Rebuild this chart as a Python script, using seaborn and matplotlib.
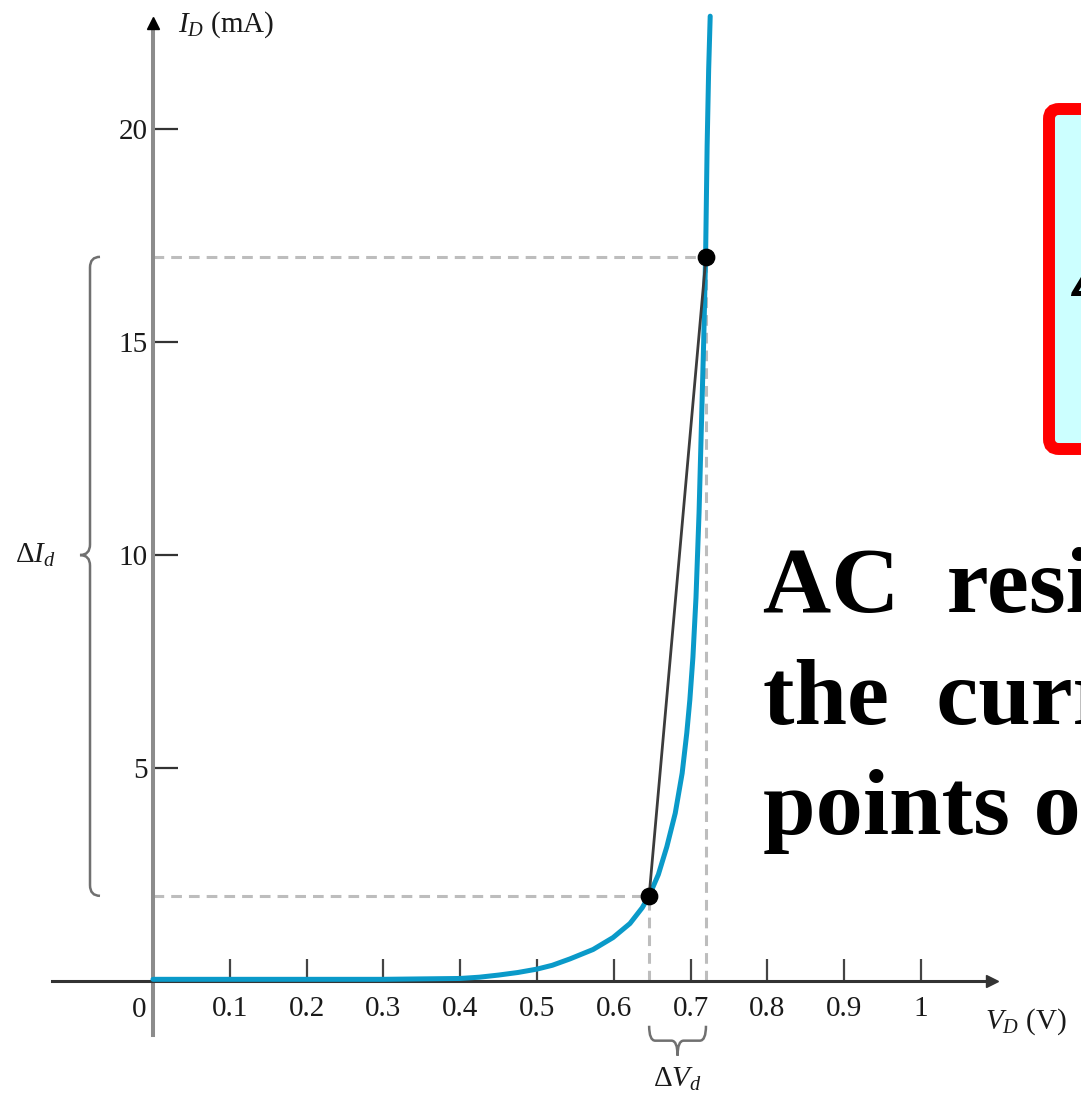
import numpy as np
import pandas as pd
import matplotlib
matplotlib.use("Agg")
import matplotlib.pyplot as plt
import seaborn as sns
from matplotlib.patches import FancyBboxPatch, PathPatch
from matplotlib.path import Path
from matplotlib.transforms import IdentityTransform

# ---------------- data ----------------
VD = [0.0, 0.1, 0.2, 0.3, 0.4, 0.425, 0.45, 0.475, 0.5, 0.52, 0.543, 0.573,
      0.599, 0.621, 0.637, 0.646, 0.658, 0.669, 0.680, 0.689, 0.695, 0.699,
      0.703, 0.707, 0.711, 0.714, 0.717, 0.7195, 0.7215, 0.7235, 0.7255]
ID = [0.04, 0.04, 0.04, 0.04, 0.06, 0.09, 0.14, 0.20, 0.28, 0.37, 0.52, 0.74,
      1.02, 1.35, 1.72, 2.0, 2.5, 3.15, 3.94, 4.88, 5.82, 6.6,
      7.6, 9.0, 11.0, 13.0, 15.0, 17.0, 19.6, 21.4, 22.65]

Q_V = [0.646, 0.72]          # the two operating points (V)
Q_I = [2.0, 17.0]            # the two operating points (mA)

XTICKS = [0.1, 0.2, 0.3, 0.4, 0.5, 0.6, 0.7, 0.8, 0.9, 1.0]
XTICK_LABELS = ["0.1", "0.2", "0.3", "0.4", "0.5", "0.6", "0.7", "0.8", "0.9", "1"]
YTICKS = [5, 10, 15, 20]
YTICK_LABELS = ["5", "10", "15", "20"]

Y_LABEL = r"$I_D$ (mA)"
X_LABEL = r"$V_D$ (V)"
DI_LABEL = r"$\Delta I_d$"
DV_LABEL = r"$\Delta V_d$"
FORMULA = r"ΔV$_{\mathbf{d}}$ / ΔI$_{\mathbf{d}}$"
TEXT_LINES = ["AC  resistance  can  be  calculated  using",
              "the  current  and  voltage  values  for  two",
              "points on the diode characteristic curve."]

# ---------------- style ----------------
BLUE = "#0a9ac9"
sns.set_theme(style="white")
plt.rcParams["font.family"] = ["Liberation Serif", "DejaVu Serif"]
plt.rcParams["mathtext.fontset"] = "custom"
plt.rcParams["mathtext.rm"] = "Liberation Serif"
plt.rcParams["mathtext.it"] = "Liberation Serif:italic"
plt.rcParams["mathtext.bf"] = "Liberation Serif:italic:bold"

W, H = 1081, 1100
fig = plt.figure(figsize=(W / 100, H / 100), dpi=100)
fig.patch.set_facecolor("white")
ax = fig.add_axes([0, 0, 1, 1])
ax.set_facecolor("white")
ax.set_xlim(-0.1992, 1.2083)
ax.set_ylim(-2.793, 23.03)

# axes as arrows through the origin
for s in ["top", "right"]:
    ax.spines[s].set_visible(False)
ax.spines["left"].set_position(("data", 0))
ax.spines["bottom"].set_position(("data", 0))
Y_AX_LO, Y_AX_HI = -1.27, 22.5
X_AX_LO, X_AX_HI = -0.132, 1.093
ax.spines["left"].set_bounds(Y_AX_LO, Y_AX_HI)
ax.spines["bottom"].set_bounds(X_AX_LO, X_AX_HI)
ax.spines["left"].set_color("#8c8c8c")
ax.spines["left"].set_linewidth(2.9)
ax.spines["bottom"].set_color("#333333")
ax.spines["bottom"].set_linewidth(2.2)
ax.plot([0], [Y_AX_HI], marker="^", ms=8, color="black", clip_on=False, zorder=5)
ax.plot([X_AX_HI], [0], marker=">", ms=9, color="#333333", clip_on=False, zorder=5)

ax.set_xticks(XTICKS)
ax.set_xticklabels(XTICK_LABELS)
ax.set_yticks(YTICKS)
ax.set_yticklabels(YTICK_LABELS)
ax.tick_params(axis="x", bottom=True, direction="in", length=16, width=1.6,
               color="#444444", pad=11, labelsize=21, labelcolor="#1a1a1a")
ax.tick_params(axis="y", left=True, direction="in", length=18, width=1.6,
               color="#333333", pad=4, labelsize=21, labelcolor="#1a1a1a")
ax.text(-0.009, -0.375, "0", ha="right", va="top", fontsize=21, color="#1a1a1a")

# dashed guides
DASH = dict(color="#bdbdbd", lw=2.2, ls=(0, (3.5, 2.3)), zorder=1)
for v, i in zip(Q_V, Q_I):
    ax.plot([0, v], [i, i], **DASH)
    ax.plot([v, v], [0, i], **DASH)

# diode curve, chord and points
sns.lineplot(x=VD, y=ID, ax=ax, color=BLUE, lw=3.6, sort=False,
             estimator=None, zorder=4)
sns.lineplot(x=Q_V, y=Q_I, ax=ax, color="#3c3c3c", lw=2.0, sort=False,
             estimator=None, zorder=5)
sns.scatterplot(x=Q_V, y=Q_I, ax=ax, s=140, color="black", edgecolor="black",
                zorder=6)


# braces
def vbrace(ax, x_hook, x_line, x_tip, y0, y1, y_tip, dy):
    verts = [(x_hook, y1), (x_line, y1), (x_line, y1 - dy),
             (x_line, y_tip + dy), (x_line, y_tip), (x_tip, y_tip),
             (x_line, y_tip), (x_line, y_tip - dy),
             (x_line, y0 + dy), (x_line, y0), (x_hook, y0)]
    codes = [Path.MOVETO, Path.CURVE3, Path.CURVE3,
             Path.LINETO, Path.CURVE3, Path.CURVE3,
             Path.CURVE3, Path.CURVE3,
             Path.LINETO, Path.CURVE3, Path.CURVE3]
    ax.add_patch(PathPatch(Path(verts, codes), fill=False, ec="#707070",
                           lw=1.8, clip_on=False))


def hbrace(ax, y_hook, y_line, y_tip, x0, x1, x_tip, dx):
    verts = [(x0, y_hook), (x0, y_line), (x0 + dx, y_line),
             (x_tip - dx, y_line), (x_tip, y_line), (x_tip, y_tip),
             (x_tip, y_line), (x_tip + dx, y_line),
             (x1 - dx, y_line), (x1, y_line), (x1, y_hook)]
    codes = [Path.MOVETO, Path.CURVE3, Path.CURVE3,
             Path.LINETO, Path.CURVE3, Path.CURVE3,
             Path.CURVE3, Path.CURVE3,
             Path.LINETO, Path.CURVE3, Path.CURVE3]
    ax.add_patch(PathPatch(Path(verts, codes), fill=False, ec="#707070",
                           lw=1.8, clip_on=False))


vbrace(ax, -0.069, -0.082, -0.095, Q_I[0], Q_I[1], 10.0, 0.25)
hbrace(ax, -1.05, -1.40, -1.75, Q_V[0], Q_V[1], (Q_V[0] + Q_V[1]) / 2, 0.008)

ax.text(-0.153, 10.0, DI_LABEL, ha="center", va="center", fontsize=21, color="#1a1a1a")
ax.text((Q_V[0] + Q_V[1]) / 2, -2.3, DV_LABEL, ha="center", va="center",
        fontsize=21, color="#1a1a1a")
ax.text(0.033, 22.45, Y_LABEL, ha="left", va="center", fontsize=21, color="#1a1a1a")
ax.text(1.083, -0.95, X_LABEL, ha="left", va="center", fontsize=21, color="#1a1a1a")

# formula box (cut by the right edge, as in the reference)
box = FancyBboxPatch((1049, H - 449), 300, 340,
                     boxstyle="round,pad=0,rounding_size=10",
                     transform=IdentityTransform(), fc="#ccffff", ec="#ff0000",
                     lw=8.6, zorder=10)
fig.add_artist(box)
fig.text(1070 / W, 1 - 296 / H, FORMULA, fontsize=66, ha="left",
         va="baseline", color="black", fontweight="bold", fontstyle="italic",
         zorder=11)

# explanatory text (cut by the right edge, as in the reference)
for line, base in zip(TEXT_LINES, [612, 724, 834]):
    fig.text(763 / W, 1 - base / H, line, fontsize=68, fontweight="bold",
             ha="left", va="baseline", color="black",
             family=["Liberation Serif", "DejaVu Serif"])

fig.savefig("out.png", dpi=100)
